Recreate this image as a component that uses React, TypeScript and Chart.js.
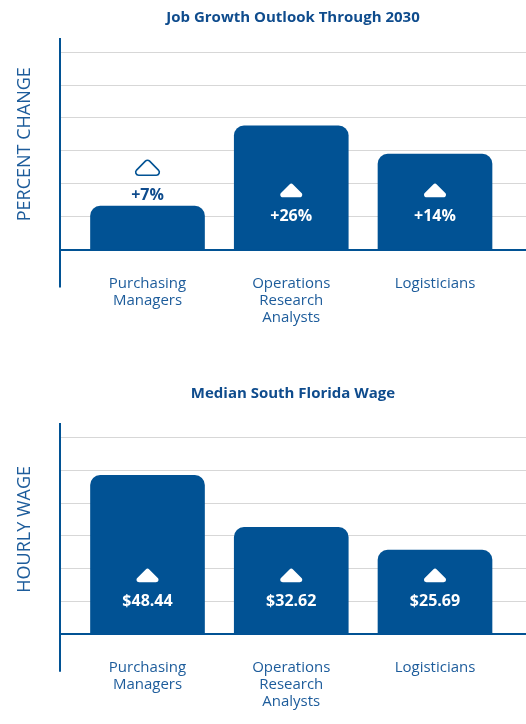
import React, { useEffect, useRef } from "react";
import { Chart, registerables } from "chart.js";

Chart.register(...registerables);
Chart.defaults.font.family = "'Open Sans', sans-serif";

// ---- Data ----
const categories = [
  ["Purchasing", "Managers"],
  ["Operations", "Research", "Analysts"],
  ["Logisticians"],
];

const growthTitle = "Job Growth Outlook Through 2030";
const growthAxisTitle = "PERCENT CHANGE";
const growthBarHeights = [6.6, 18.8, 14.5];
const growthLabels = ["+7%", "+26%", "+14%"];
const growthTicks = [0, 5, 10, 15, 20, 25, 30];

const wageTitle = "Median South Florida Wage";
const wageAxisTitle = "HOURLY WAGE";
const wageValues = [48.44, 32.62, 25.69];
const wageLabels = ["$48.44", "$32.62", "$25.69"];
const wageTicks = [0, 10, 20, 30, 40, 50, 60];

// ---- Styles ----
const BAR = "#015294";
const NAVY = "#0f4c8d";
const AXIS_TEXT = "#1d5c9b";
const GRID = "#d7d7d7";
const X_MIN = -0.6087;
const X_MAX = 2.633;
const LABEL_LINE = 17;

function roundedTriangle(ctx: CanvasRenderingContext2D, cx: number, cy: number, w: number, h: number, r: number) {
  const p = [
    [cx, cy - h / 2],
    [cx + w / 2, cy + h / 2],
    [cx - w / 2, cy + h / 2],
  ];
  ctx.beginPath();
  ctx.moveTo((p[2][0] + p[0][0]) / 2, (p[2][1] + p[0][1]) / 2);
  ctx.arcTo(p[0][0], p[0][1], p[1][0], p[1][1], r);
  ctx.arcTo(p[1][0], p[1][1], p[2][0], p[2][1], r);
  ctx.arcTo(p[2][0], p[2][1], p[0][0], p[0][1], r);
  ctx.closePath();
}

const barLabelPlugin = {
  id: "barLabels",
  afterDatasetsDraw(chart: any, _args: any, opts: any) {
    const labels: string[] = opts.labels || [];
    const meta = chart.getDatasetMeta(0);
    const base = chart.scales.y.getPixelForValue(0);
    const ctx: CanvasRenderingContext2D = chart.ctx;
    ctx.save();
    ctx.textAlign = "center";
    ctx.textBaseline = "middle";
    ctx.font = "bold 16px 'Open Sans', sans-serif";
    meta.data.forEach((el: any, i: number) => {
      const { x, y } = el.getProps(["x", "y"], true);
      const inside = base - y > 70;
      if (inside) {
        roundedTriangle(ctx, x, base - 59.5, 29, 14.6, 2.5);
        ctx.fillStyle = "#ffffff";
        ctx.fill();
        ctx.fillText(labels[i], x, base - 33);
      } else {
        roundedTriangle(ctx, x, y - 39, 32, 16.2, 3);
        ctx.strokeStyle = BAR;
        ctx.lineWidth = 1.6;
        ctx.stroke();
        ctx.fillStyle = NAVY;
        ctx.fillText(labels[i], x, y - 11);
      }
    });
    ctx.restore();
  },
};

type PanelParams = {
  title: string;
  axisTitle: string;
  values: number[];
  labels: string[];
  ticks: number[];
  yMax: number;
  titlePad: { top: number; bottom: number };
  tickLength: number;
  tickPad: number;
  padBottom: number;
};

function buildConfig(p: PanelParams): any {
  return {
    type: "bar",
    data: {
      datasets: [
        {
          data: p.values.map((v, i) => ({ x: i, y: v })),
          backgroundColor: BAR,
          borderWidth: 0,
          borderRadius: { topLeft: 10, topRight: 10, bottomLeft: 0, bottomRight: 0 },
          borderSkipped: "start",
          barThickness: 114,
        },
      ],
    },
    options: {
      responsive: false,
      animation: false,
      events: [],
      layout: { padding: { left: 0, right: 0, top: 0, bottom: p.padBottom } },
      plugins: {
        legend: { display: false },
        tooltip: { enabled: false },
        title: {
          display: true,
          text: p.title,
          color: NAVY,
          fullSize: false,
          font: { size: 15, weight: "bold", lineHeight: 1.2 },
          padding: p.titlePad,
        },
        barLabels: { labels: p.labels },
      },
      scales: {
        x: {
          type: "linear",
          min: X_MIN,
          max: X_MAX,
          offset: false,
          afterBuildTicks: (s: any) => {
            s.ticks = [X_MIN, 0, 1, 2].map((v) => ({ value: v }));
          },
          afterFit: (s: any) => {
            s.height = p.tickLength + p.tickPad + 3 * LABEL_LINE + 3;
          },
          ticks: {
            autoSkip: false,
            maxRotation: 0,
            minRotation: 0,
            padding: p.tickPad,
            color: AXIS_TEXT,
            font: { size: 15, lineHeight: LABEL_LINE / 15 },
            callback: (v: number) => (Number.isInteger(v) && categories[v] ? categories[v] : ""),
          },
          grid: {
            offset: false,
            drawOnChartArea: false,
            drawTicks: true,
            tickLength: p.tickLength,
            lineWidth: 2,
            color: (c: any) => (c.index === 0 ? BAR : "rgba(0,0,0,0)"),
          },
          border: { display: true, color: BAR, width: 2 },
        },
        y: {
          min: 0,
          max: p.yMax,
          afterBuildTicks: (s: any) => {
            s.ticks = p.ticks.map((v) => ({ value: v }));
          },
          ticks: { display: false },
          grid: {
            drawTicks: false,
            lineWidth: 1,
            color: (c: any) => (c.tick && c.tick.value === 0 ? "rgba(0,0,0,0)" : GRID),
          },
          border: { display: true, color: BAR, width: 2 },
          title: {
            display: true,
            text: p.axisTitle,
            color: AXIS_TEXT,
            font: { size: 18, weight: "normal", lineHeight: 1.2 },
            padding: { top: 14, bottom: 24.4 },
          },
        },
      },
    },
    plugins: [barLabelPlugin],
  };
}

function Panel({ params, top, height }: { params: PanelParams; top: number; height: number }) {
  const ref = useRef<HTMLCanvasElement>(null);
  useEffect(() => {
    const chart = new Chart(ref.current as HTMLCanvasElement, buildConfig(params));
    return () => chart.destroy();
  }, []);
  return (
    <canvas
      ref={ref}
      width={526}
      height={height}
      style={{ position: "absolute", left: 0, top, width: 526, height, display: "block" }}
    />
  );
}

const growthParams: PanelParams = {
  title: growthTitle,
  axisTitle: growthAxisTitle,
  values: growthBarHeights,
  labels: growthLabels,
  ticks: growthTicks,
  yMax: 32,
  titlePad: { top: 9, bottom: 12 },
  tickLength: 38,
  tickPad: -12.6,
  padBottom: 16.1,
};

const wageParams: PanelParams = {
  title: wageTitle,
  axisTitle: wageAxisTitle,
  values: wageValues,
  labels: wageLabels,
  ticks: wageTicks,
  yMax: 64,
  titlePad: { top: 24.7, bottom: 21.6 },
  tickLength: 37.3,
  tickPad: -12.8,
  padBottom: 11.1,
};

export default function App() {
  return (
    <div style={{ position: "absolute", left: 0, top: 0, width: 526, height: 724, background: "#ffffff" }}>
      <Panel params={growthParams} top={0} height={345} />
      <Panel params={wageParams} top={360} height={364} />
    </div>
  );
}
